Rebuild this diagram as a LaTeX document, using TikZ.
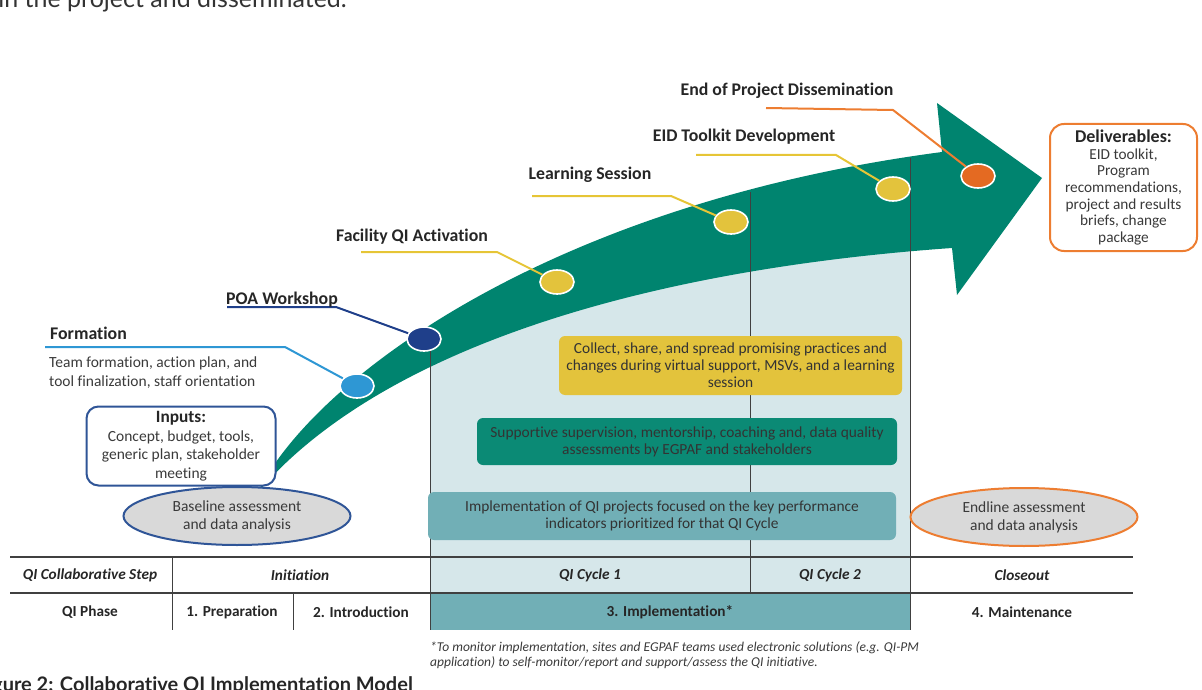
\documentclass[tikz,border=0pt]{standalone}
\usepackage{fontspec}
\setmainfont{Carlito}[Ligatures=NoCommon]
\newfontfamily\capfont{Lato}[Ligatures=NoCommon]
\usetikzlibrary{shapes.geometric}

\definecolor{arrowgreen}{HTML}{00846F}
\definecolor{paleblue}{HTML}{D6E7EA}
\definecolor{implteal}{HTML}{71AFB6}
\definecolor{gold}{HTML}{E3C33C}
\definecolor{leadgold}{HTML}{E6C536}
\definecolor{navy}{HTML}{1F3F8A}
\definecolor{skyblue}{HTML}{2E97D4}
\definecolor{orangedot}{HTML}{E46A22}
\definecolor{boxblue}{HTML}{2F5597}
\definecolor{boxorange}{HTML}{ED7D31}
\definecolor{ovalgray}{HTML}{D9D9D9}
\definecolor{inkgray}{HTML}{3A3A3A}
\definecolor{rulegray}{HTML}{404040}
\definecolor{supteal}{HTML}{0B8A75}

\tikzset{
  dot/.style={ellipse, minimum width=34pt, minimum height=24pt, inner sep=0pt,
    draw=white, line width=1.6pt},
  milestone/.style={font=\fontsize{17.8}{20}\selectfont\bfseries, text=black!85, inner sep=0pt},
  leader/.style={line width=2pt},
  body/.style={font=\fontsize{15.5}{18.5}\selectfont, text=inkgray, align=center, inner sep=0pt},
  band/.style={rounded corners=6pt, inner sep=0pt, align=center,
    font=\fontsize{15.4}{17.2}\selectfont, text=black!80},
  oval/.style={ellipse, fill=ovalgray, line width=2pt, inner sep=0pt,
    minimum width=227pt, minimum height=58pt, align=center,
    font=\fontsize{15.5}{18}\selectfont, text=inkgray},
  cell/.style={font=\fontsize{15.3}{17}\selectfont\bfseries, text=black!85, inner sep=0pt},
  stepcell/.style={font=\fontsize{15.3}{17}\selectfont\bfseries\itshape, text=black!85, inner sep=0pt},
  vrule/.style={draw=rulegray, line width=1pt},
  hrule/.style={draw=rulegray, line width=1.8pt},
}

\begin{document}
\begin{tikzpicture}[x=1pt, y=-1pt]
\useasboundingbox (0,0) rectangle (1202,690);

% running text of the page above and below the figure
\node[anchor=base east, inner sep=0pt, text=black!80, font=\capfont\fontsize{25}{27}\selectfont]
  (pagetext) at (347,8) {in the project and disseminated.};
\node[anchor=base east, inner sep=0pt, text=black!85, font=\capfont\bfseries\fontsize{20}{22}\selectfont]
  (caption) at (413,691) {Figure 2: Collaborative QI Implementation Model};

% implementation zone under the arrow
\fill[paleblue] (430,340) -- (910,200) -- (910,593) -- (430,593) -- cycle;
\fill[implteal] (430,593) rectangle (910,630);

% the curved progress arrow
\fill[arrowgreen] (258,492) .. controls (310,385) and (540,205) .. (942,152)
  -- (937,103) -- (1042,178) -- (957,295) -- (952,248)
  .. controls (640,270) and (380,350) .. (258,492) -- cycle;

% cycle dividers
\draw[vrule] (430,349) -- (430,630);
\draw[vrule] (750,192) -- (750,593);
\draw[vrule] (910,158) -- (910,630);

% table rules
\draw[hrule] (10,557) -- (1133,557);
\draw[hrule] (10,593) -- (1133,593);
\draw[vrule] (172,557) -- (172,630);
\draw[vrule] (293,593) -- (293,630);

% activity bands
\node[band, fill=gold, minimum width=343pt, minimum height=59pt] (collect) at (730.5,365.5)
  {Collect, share, and spread promising practices and\\changes during virtual support, MSVs, and a learning\\session};
\node[band, fill=supteal, minimum width=420pt, minimum height=47pt] (supervise) at (687,441.5)
  {Supportive supervision, mentorship, coaching and, data quality\\assessments by EGPAF and stakeholders};
\node[band, fill=implteal, minimum width=468pt, minimum height=48pt] (projects) at (662,516)
  {Implementation of QI projects focused on the key performance\\indicators prioritized for that QI Cycle};

% milestone dots
\node[dot, fill=skyblue] (dform) at (357,386) {};
\node[dot, fill=navy] (dpoa) at (424,339) {};
\node[dot, fill=gold] (dfac) at (557,282) {};
\node[dot, fill=gold] (dlearn) at (731,222) {};
\node[dot, fill=gold] (deid) at (893,189) {};
\node[dot, fill=orangedot] (dend) at (978,176) {};

% leader lines
\coordinate (lform0) at (45,347);  \coordinate (lform1) at (285,347);
\coordinate (lpoa0) at (227,307);  \coordinate (lpoa1) at (336,307);
\coordinate (lfac0) at (361,252);  \coordinate (lfac1) at (497,252);
\coordinate (llearn0) at (532,196); \coordinate (llearn1) at (671,196);
\coordinate (leid0) at (696,155);  \coordinate (leid1) at (836,155);
\coordinate (lend0) at (766,108);  \coordinate (lend1) at (893,110);
\draw[leader, skyblue] (lform0) -- (lform1) -- (dform);
\draw[leader, navy] (lpoa0) -- (lpoa1) -- (dpoa);
\draw[leader, leadgold] (lfac0) -- (lfac1) -- (dfac);
\draw[leader, leadgold] (llearn0) -- (llearn1) -- (dlearn);
\draw[leader, leadgold] (leid0) -- (leid1) -- (deid);
\draw[leader, boxorange] (lend0) -- (lend1) -- (dend);

% milestone labels
\node[milestone, anchor=west] (tform) at (50,333) {Formation};
\node[milestone] (tpoa) at (282,300) {POA Workshop};
\node[milestone] (tfac) at (412,237) {Facility QI Activation};
\node[milestone] (tlearn) at (590,175) {Learning Session};
\node[milestone] (teid) at (744,137) {EID Toolkit Development};
\node[milestone] (tend) at (787,91) {End of Project Dissemination};
\node[body, align=left, anchor=north west] (formtext) at (49,357)
  {Team formation, action plan, and\\tool finalization, staff orientation};

% inputs and deliverables
\node[draw=boxblue, line width=2pt, fill=white, rounded corners=12pt, inner sep=0pt,
  minimum width=189pt, minimum height=79pt, align=center,
  font=\fontsize{15.5}{18.5}\selectfont, text=inkgray] (inputs) at (181,446)
  {{\fontsize{17.3}{18.5}\selectfont\bfseries\color{black!85}Inputs:}\\Concept, budget, tools,\\generic plan, stakeholder\\meeting};
\node[draw=boxorange, line width=2pt, fill=white, rounded corners=14pt, inner sep=0pt,
  minimum width=147pt, minimum height=127pt, align=center,
  font=\fontsize{15.3}{16.6}\selectfont, text=inkgray] (deliv) at (1123.5,187.5)
  {{\fontsize{18}{18}\selectfont\bfseries\color{black!85}Deliverables:}\\EID toolkit,\\Program\\recommendations,\\project and results\\briefs, change\\package};

% assessments
\node[oval, draw=boxblue] (baseline) at (237,516) {Baseline assessment\\and data analysis};
\node[oval, draw=boxorange] (endline) at (1024,517) {Endline assessment\\and data analysis};

% table cells
\node[stepcell] (c11) at (90,575) {QI Collaborative Step};
\node[stepcell] (c12) at (300,575) {Initiation};
\node[stepcell] (c13) at (590,575) {QI Cycle 1};
\node[stepcell] (c14) at (830,575) {QI Cycle 2};
\node[stepcell] (c15) at (1022,575) {Closeout};
\node[cell] (c21) at (90,612) {QI Phase};
\node[cell] (c22) at (232,612) {1. Preparation};
\node[cell] (c23) at (361,612) {2. Introduction};
\node[cell] (c24) at (670,612) {3. Implementation*};
\node[cell] (c25) at (1022,612) {4. Maintenance};

% footnote
\node[anchor=north west, inner sep=0pt, align=left, text=inkgray,
  font=\fontsize{13.5}{15}\selectfont\itshape] (note) at (430,641)
  {*To monitor implementation, sites and EGPAF teams used electronic solutions (e.g. QI-PM\\application) to self-monitor/report and support/assess the QI initiative.};
\end{tikzpicture}
\end{document}
